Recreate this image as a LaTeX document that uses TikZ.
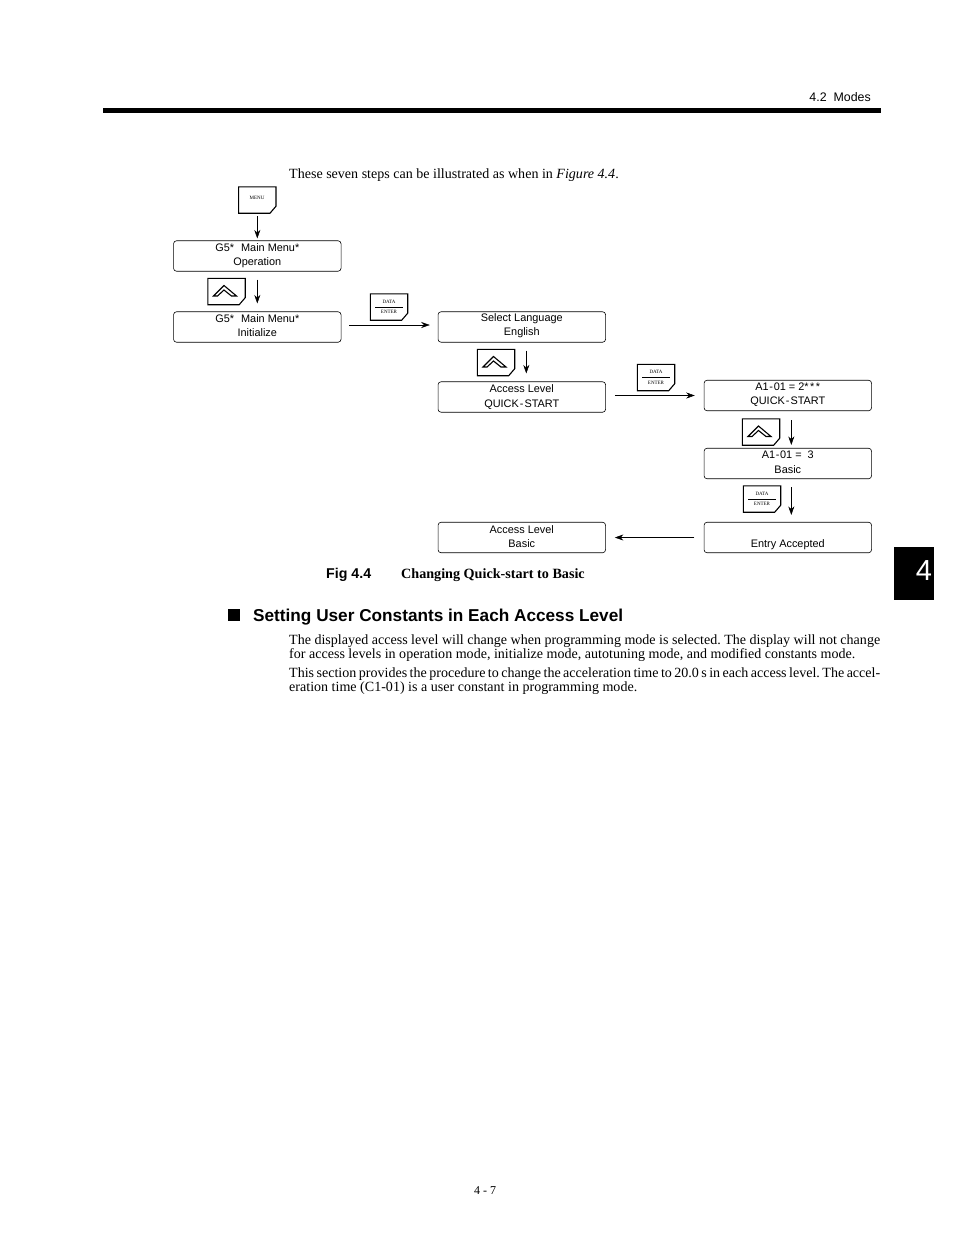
\documentclass[tikz,border=0pt]{standalone}
\usepackage{fontspec}
\setmainfont{Liberation Serif}
\setsansfont{Liberation Sans}
\usetikzlibrary{arrows.meta}

\newcommand{\keyoutline}[1]{
  \draw[keyedge] (#1.north west) -- (#1.north east) -- ([yshift=7pt]#1.south east) -- ([xshift=-6pt]#1.south east) -- (#1.south west) -- cycle;
}

\begin{document}
\begin{tikzpicture}[
  x=1pt,y=-1pt,
  every node/.style={inner sep=0pt},
  panel/.style={draw,rounded corners=3pt,line width=.6pt,minimum width=167.5pt,minimum height=30.5pt},
  paneltext/.style={align=center,font=\sffamily\fontsize{10.9}{14}\selectfont},
  keycap/.style={minimum width=37pt,minimum height=26pt},
  keyedge/.style={line width=1.1pt,line join=miter},
  keytext/.style={font=\fontsize{5}{6}\selectfont},
  flow/.style={-{Stealth[length=8.5pt,width=6pt]},line width=.5pt},
  bodyline/.style={anchor=base west,font=\fontsize{14.05}{15}\selectfont\frenchspacing}
]
\useasboundingbox (0,0) rectangle (954,1235);
% page furniture
\node[anchor=base east,font=\sffamily\fontsize{12.4}{14}\selectfont] (headertext) at (871,101) {4.2~~Modes};
\fill (103,108) rectangle (881,113);
\fill (894,547) rectangle (934,600);
\node[text=white,font=\sffamily\fontsize{29}{30}\selectfont] (chaptertext) at (924,571) {4};
\node[bodyline] (introtext) at (289,178) {These seven steps can be illustrated as when in \textit{Figure 4.4}.};
% display panels
\foreach \name/\cx/\cy/\ty/\lines in {
  opbox/257.3/256/255.5/{G5*\kern1pt~~Main Menu*\\Operation},
  initbox/257.3/327/326/{G5*\kern1pt~~Main Menu*\\Initialize},
  langbox/521.8/327/326/{Select Language\\English},
  accbox/521.8/397/397/{Access Level\\[1pt]QUICK\kern1pt-\kern1pt START},
  aonebox/787.8/395.5/394.5/{A1\kern.7pt-\kern.7pt01 = 2*\kern1.5pt*\kern1.5pt*\\QUICK\kern1pt-\kern1pt START},
  threebox/787.8/463.5/462.5/{A1\kern.7pt-\kern.7pt01 =~~3\\[1pt]Basic},
  acceptbox/787.8/537.5/545/{Entry Accepted},
  basicbox/521.8/537.5/536.5/{Access Level\\Basic}} {
  \node[panel] (\name) at (\cx,\cy) {};
  \node[paneltext] (\name text) at (\cx,\ty) {\lines};
}
% keys
\node[keycap] (menukey) at (257.3,200) {};
\keyoutline{menukey}
\node[keytext] (menutext) at (257,198) {MENU};
\foreach \name/\cx/\cy in {upone/226.5/291.5,uptwo/496/362.5,upthree/761/432} {
  \node[keycap] (\name) at (\cx,\cy) {};
  \keyoutline{\name}
  \draw[line width=1.1pt,line join=miter] ([shift={(-13,4.5)}]\name.center) -- ([shift={(-2.5,-6)}]\name.center) -- ([shift={(10,4.5)}]\name.center) -- ([shift={(5,4.5)}]\name.center) -- ([shift={(-2.5,-1.5)}]\name.center) -- ([shift={(-9,4.5)}]\name.center) -- cycle;
}
\foreach \name/\cx/\cy in {dataone/389/307,datatwo/656/377.5,datathree/762/499} {
  \node[keycap] (\name) at (\cx,\cy) {};
  \keyoutline{\name}
  \node[keytext] (\name top) at (\cx,\cy-5.5) {DATA};
  \node[keytext] (\name bottom) at (\cx,\cy+5) {ENTER};
  \draw[line width=.6pt] ([xshift=-14pt]\name.center) -- ([xshift=14pt]\name.center);
}
% connectors
\draw[flow,shorten <=3pt,shorten >=2pt] (menukey) -- (opbox);
\draw[flow,shorten <=8pt,shorten >=8pt] (opbox) -- (initbox);
\draw[flow,shorten <=8pt,shorten >=8pt] ([xshift=4.5pt]langbox.south) -- ([xshift=4.5pt]accbox.north);
\draw[flow,shorten <=9pt,shorten >=3pt] ([xshift=3.5pt]aonebox.south) -- ([xshift=3.5pt]threebox.north);
\draw[flow,shorten <=8pt,shorten >=7pt] ([xshift=3.5pt]threebox.south) -- ([xshift=3.5pt]acceptbox.north);
\draw[flow,shorten <=8pt,shorten >=8pt] ([yshift=2pt]initbox.east) -- ([yshift=2pt]langbox.west);
\draw[flow,shorten <=9pt,shorten >=9pt] (accbox.east |- aonebox.west) -- (aonebox.west);
\draw[flow,shorten <=9.5pt,shorten >=9pt] (acceptbox.west) -- (basicbox.east);
% caption and section
\node[anchor=base west,font=\sffamily\bfseries\fontsize{14.2}{15}\selectfont] (figlabel) at (326,578) {Fig 4.4};
\node[anchor=base west,font=\bfseries\fontsize{14.15}{15}\selectfont] (figtitle) at (401,578) {Changing Quick-start to Basic};
\fill (228,609) rectangle (240,621);
\node[anchor=base west,font=\sffamily\bfseries\fontsize{17.2}{20}\selectfont] (sectiontitle) at (253,621) {Setting User Constants in Each Access Level};
\node[bodyline] (paraone) at (289,644.5) {\hbox to 591pt{The displayed access level will change when programming mode is selected. The display will not change}};
\node[bodyline] (paratwo) at (289,658.5) {for access levels in operation mode, initialize mode, autotuning mode, and modified constants mode.};
\node[bodyline] (parathree) at (289,677.5) {\hbox to 591pt{This section provides the procedure to change the acceleration time to 20.0\,s in each access level. The accel-}};
\node[bodyline] (parafour) at (289,691.5) {eration time (C1-01) is a user constant in programming mode.};
\node[font=\fontsize{12}{14}\selectfont] (pagenumber) at (485,1191) {4 - 7};
\end{tikzpicture}
\end{document}
